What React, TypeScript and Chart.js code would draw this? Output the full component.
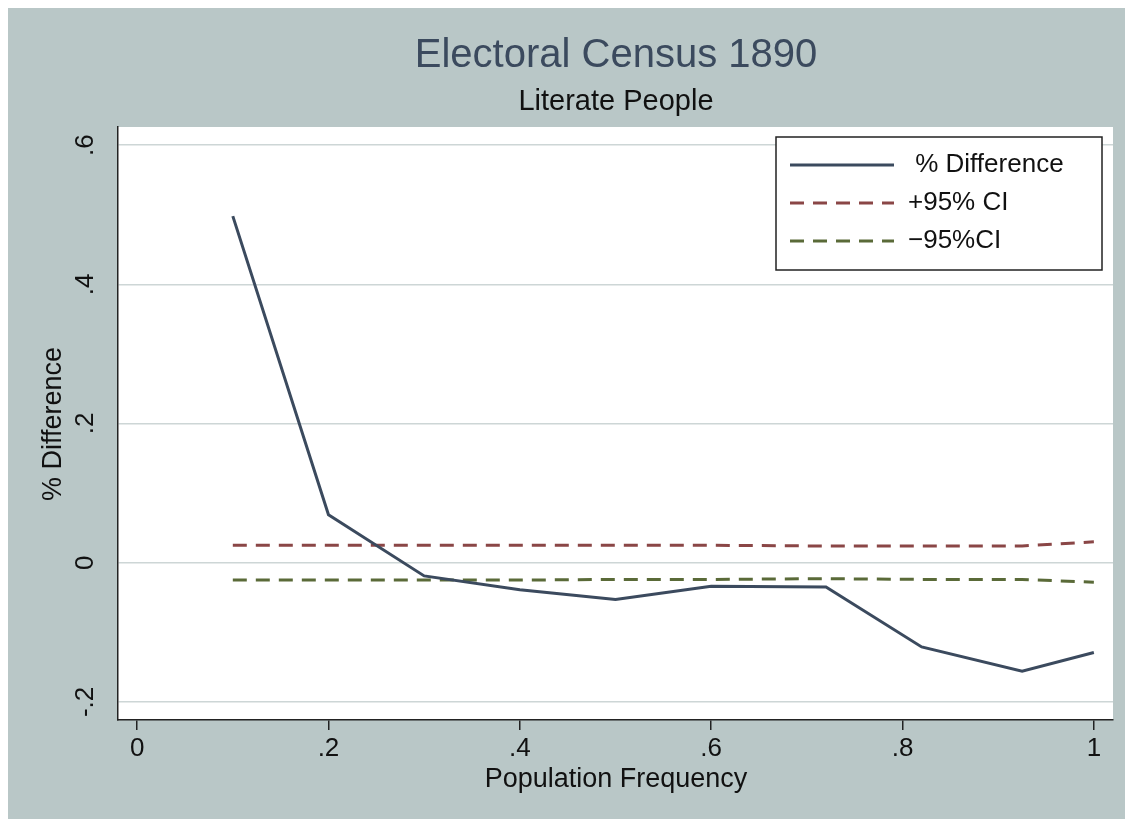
import { Chart, registerables } from "chart.js";
import { useEffect, useRef } from "react";

Chart.register(...registerables);

// population frequency (x) and estimates
const freq = [0.1, 0.2, 0.3, 0.4, 0.5, 0.6, 0.72, 0.82, 0.925, 1.0];
const pctDiff = [0.498, 0.069, -0.019, -0.039, -0.053, -0.034, -0.035, -0.121, -0.156, -0.129];
const upperCI = [0.025, 0.025, 0.025, 0.025, 0.025, 0.025, 0.024, 0.024, 0.024, 0.03];
const lowerCI = [-0.025, -0.025, -0.025, -0.025, -0.024, -0.024, -0.023, -0.024, -0.024, -0.028];
const xTicks = [0, 0.2, 0.4, 0.6, 0.8, 1];
const yTicks = [-0.2, 0, 0.2, 0.4, 0.6];

const FONT = '"Liberation Sans", Arial, sans-serif';
const NAVY = "#3b4a5e";
const RED = "#8a4646";
const GREEN = "#5a6a38";

const fmt = (v: number) => {
  if (Math.abs(v) < 1e-9) return "0";
  if (Math.abs(v - 1) < 1e-9) return "1";
  return (v < 0 ? "-" : "") + "." + Math.round(Math.abs(v) * 10);
};

const pts = (ys: number[]) => freq.map((x, i) => ({ x, y: ys[i] }));

// draws titles, tick labels and the legend box
const textPlugin = {
  id: "stataText",
  beforeDraw(chart: Chart) {
    const c = chart.ctx;
    c.save();
    c.fillStyle = "#b9c7c7";
    c.fillRect(0, 0, chart.width, chart.height);
    const a = chart.chartArea;
    c.fillStyle = "#ffffff";
    c.fillRect(a.left, a.top, a.right - a.left, a.bottom - a.top);
    c.restore();
  },
  afterDraw(chart: Chart) {
    const c = chart.ctx;
    const xs = chart.scales.x;
    const ys = chart.scales.y;
    c.save();
    c.textAlign = "center";
    c.textBaseline = "middle";
    c.fillStyle = NAVY;
    c.font = `40px ${FONT}`;
    c.fillText("Electoral Census 1890", 616, 56);
    c.fillStyle = "#111";
    c.font = `29px ${FONT}`;
    c.fillText("Literate People", 616, 102);

    c.font = `26px ${FONT}`;
    xTicks.forEach((v) => c.fillText(fmt(v), xs.getPixelForValue(v), 749));
    c.font = `27px ${FONT}`;
    c.fillText("Population Frequency", 616, 780);

    yTicks.forEach((v) => {
      c.save();
      c.translate(86, ys.getPixelForValue(v));
      c.rotate(-Math.PI / 2);
      c.font = `26px ${FONT}`;
      c.fillText(fmt(v), 0, 0);
      c.restore();
    });
    c.save();
    c.translate(54, 424);
    c.rotate(-Math.PI / 2);
    c.font = `27px ${FONT}`;
    c.fillText("% Difference", 0, 0);
    c.restore();

    // legend
    c.fillStyle = "#fff";
    c.fillRect(776, 137, 326, 133);
    c.strokeStyle = "#222";
    c.lineWidth = 1.5;
    c.strokeRect(776, 137, 326, 133);
    const items = [
      { label: " % Difference", color: NAVY, dash: [] as number[], y: 165 },
      { label: "+95% CI", color: RED, dash: [14, 9], y: 203 },
      { label: "\u221295%CI", color: GREEN, dash: [14, 9], y: 241 },
    ];
    items.forEach((it) => {
      c.strokeStyle = it.color;
      c.lineWidth = 3;
      c.setLineDash(it.dash);
      c.beginPath();
      c.moveTo(790, it.y);
      c.lineTo(894, it.y);
      c.stroke();
      c.setLineDash([]);
      c.fillStyle = "#111";
      c.textAlign = "left";
      c.font = `26px ${FONT}`;
      c.fillText(it.label, 908, it.y);
    });
    c.restore();
  },
};

export default function App() {
  const canvasRef = useRef<HTMLCanvasElement | null>(null);

  useEffect(() => {
    const ctx = canvasRef.current?.getContext("2d");
    if (!ctx) return;
    const chart = new Chart(ctx, {
      type: "line",
      data: {
        datasets: [
          { data: pts(pctDiff), borderColor: NAVY, borderWidth: 3, pointRadius: 0, tension: 0 },
          { data: pts(upperCI), borderColor: RED, borderWidth: 3, borderDash: [14, 9], pointRadius: 0 },
          { data: pts(lowerCI), borderColor: GREEN, borderWidth: 3, borderDash: [14, 9], pointRadius: 0 },
        ],
      },
      options: {
        animation: false,
        responsive: false,
        layout: { padding: { left: 118, top: 127, right: 20, bottom: 107 } },
        plugins: { legend: { display: false }, tooltip: { enabled: false } },
        scales: {
          x: {
            type: "linear",
            min: -0.02,
            max: 1.02,
            afterFit: (s: any) => { s.height = 0; },
            afterBuildTicks: (s: any) => { s.ticks = xTicks.map((value) => ({ value })); },
            ticks: { display: false },
            grid: { drawOnChartArea: false, drawTicks: true, tickLength: 10, color: "#222", lineWidth: 1.5 },
            border: { display: true, color: "#222", width: 1.5 },
          },
          y: {
            type: "linear",
            min: -0.226,
            max: 0.626,
            afterFit: (s: any) => { s.width = 0; },
            afterBuildTicks: (s: any) => { s.ticks = yTicks.map((value) => ({ value })); },
            ticks: { display: false },
            grid: { color: "#cdd6d6", lineWidth: 1.5, drawTicks: false },
            border: { display: true, color: "#222", width: 1.5 },
          },
        },
      },
      plugins: [textPlugin],
    });
    return () => chart.destroy();
  }, []);

  return (
    <div style={{ margin: -8 }}>
      <canvas ref={canvasRef} width={1133} height={827} style={{ display: "block" }} />
    </div>
  );
}
